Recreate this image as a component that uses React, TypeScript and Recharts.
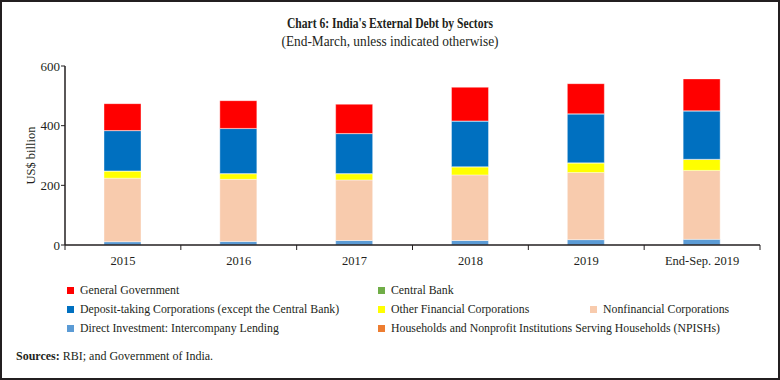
import React from "react";
import { BarChart, Bar, XAxis, YAxis } from "recharts";

const categories = ["2015", "2016", "2017", "2018", "2019", "End-Sep. 2019"];
const directInvestment = [11, 12, 15, 15, 18, 19];
const nonfinancialCorps = [213, 208, 203, 220, 225, 231];
const otherFinancialCorps = [24, 19, 21, 27, 32, 37];
const households = [0.3, 0.3, 0.3, 0.3, 0.3, 0.3];
const depositTaking = [135, 151, 134, 153, 164, 162];
const centralBank = [0.5, 0.5, 0.5, 0.5, 0.5, 0.5];
const generalGovernment = [90, 93, 98, 113, 101, 107];
const yTicks = [0, 200, 400, 600];

const series = [
  { key: "di", name: "Direct Investment: Intercompany Lending", color: "#5B9BD5", values: directInvestment },
  { key: "nfc", name: "Nonfinancial Corporations", color: "#F8CBAD", values: nonfinancialCorps },
  { key: "ofc", name: "Other Financial Corporations", color: "#FFFF00", values: otherFinancialCorps },
  { key: "hh", name: "Households and Nonprofit Institutions Serving Households (NPISHs)", color: "#ED7D31", values: households },
  { key: "dtc", name: "Deposit-taking Corporations (except the Central Bank)", color: "#0070C0", values: depositTaking },
  { key: "cb", name: "Central Bank", color: "#70AD47", values: centralBank },
  { key: "gg", name: "General Government", color: "#FF0000", values: generalGovernment },
];

const data = categories.map((c, i) => {
  const row: any = { name: c };
  series.forEach((s) => (row[s.key] = s.values[i]));
  return row;
});

const legendRows = [
  ["gg", "cb", null],
  ["dtc", "ofc", "nfc"],
  ["di", "hh", null],
];

const FONT = "'Liberation Serif', 'DejaVu Serif', serif";
const TEXT = "#231f20";

const XTick = (props: any) => {
  const { x, y, payload, index, visibleTicksCount } = props;
  const half = payload && payload.offset ? payload.offset : 57.9;
  const count = visibleTicksCount || categories.length;
  return (
    <g>
      <line x1={x - half} y1={y - 8} x2={x - half} y2={y - 3} stroke={TEXT} strokeWidth={1} />
      {index === count - 1 && (
        <line x1={x + half} y1={y - 8} x2={x + half} y2={y - 3} stroke={TEXT} strokeWidth={1} />
      )}
      <text x={x} y={y + 12} textAnchor="middle" fontSize={12.5} fill={TEXT} fontFamily={FONT}>
        {payload.value}
      </text>
    </g>
  );
};

const LegendBlock = () => {
  const byKey: any = {};
  series.forEach((s) => (byKey[s.key] = s));
  const colX = [0, 311, 523];
  return (
    <div style={{ position: "absolute", left: 65, top: 280, width: 700, height: 60, fontFamily: FONT, fontSize: 11.8, color: TEXT }}>
      {legendRows.map((row, r) =>
        row.map((k, c) =>
          k ? (
            <div
              key={k}
              style={{ position: "absolute", left: colX[c], top: r * 19, display: "flex", alignItems: "center", whiteSpace: "nowrap", height: 16 }}
            >
              <span style={{ display: "inline-block", width: 7, height: 7, background: byKey[k].color, marginRight: 6 }} />
              <span>{byKey[k].name}</span>
            </div>
          ) : null
        )
      )}
    </div>
  );
};

export default function App() {
  return (
    <div
      style={{
        position: "absolute",
        left: 0,
        top: 0,
        width: 780,
        height: 380,
        boxSizing: "border-box",
        border: "2px solid #231f20",
        background: "#fff",
        fontFamily: FONT,
        color: TEXT,
      }}
    >
      <div style={{ position: "absolute", left: 0, width: 776, top: 13, textAlign: "center", fontSize: 14.5, fontWeight: "bold", transform: "scaleX(0.8)" }}>
        Chart 6: India's External Debt by Sectors
      </div>
      <div style={{ position: "absolute", left: 0, width: 776, top: 31, textAlign: "center", fontSize: 14.5, transform: "scaleX(0.92)" }}>
        (End-March, unless indicated otherwise)
      </div>
      <div style={{ position: "absolute", left: -2, top: -2 }}>
        <BarChart width={780} height={275} data={data} margin={{ top: 66, right: 20, left: 0, bottom: 0 }} barSize={37}>
          <XAxis
            dataKey="name"
            tick={<XTick />}
            tickLine={false}
            axisLine={{ stroke: TEXT, strokeWidth: 1.5 }}
            height={30}
            interval={0}
          />
          <YAxis
            domain={[0, 600]}
            ticks={yTicks}
            width={65}
            tickSize={4}
            tickMargin={1}
            tickLine={{ stroke: TEXT }}
            axisLine={{ stroke: TEXT, strokeWidth: 1.5 }}
            tick={{ fontSize: 13, fill: TEXT, fontFamily: FONT }}
            label={{ value: "US$ billion", angle: -90, position: "insideLeft", offset: 31, style: { fontSize: 12.5, fill: TEXT, fontFamily: FONT, textAnchor: "middle" } }}
          />
          {series.map((s) => (
            <Bar key={s.key} dataKey={s.key} name={s.name} stackId="a" fill={s.color} stroke="#ffffff" strokeWidth={0.4} isAnimationActive={false} />
          ))}
        </BarChart>
      </div>
      <LegendBlock />
      <div style={{ position: "absolute", left: 14, top: 347, fontSize: 12 }}>
        <b>Sources:</b> RBI; and Government of India.
      </div>
    </div>
  );
}
